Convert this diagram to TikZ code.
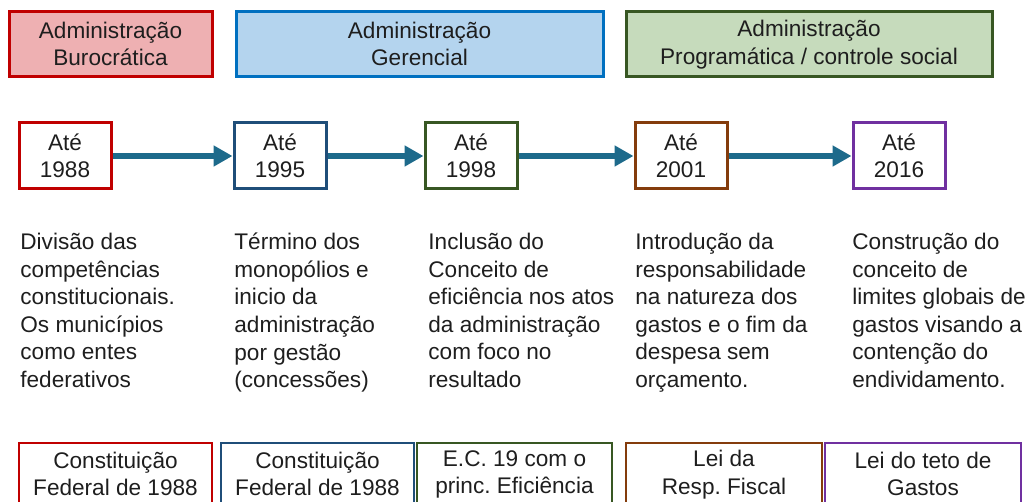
\documentclass[tikz,border=0pt]{standalone}
\usepackage{fontspec}
\setmainfont{Liberation Sans}
\usetikzlibrary{arrows.meta}

\definecolor{txt}{RGB}{30,30,30}
\definecolor{redB}{RGB}{192,0,0}
\definecolor{redF}{RGB}{238,176,178}
\definecolor{blueB}{RGB}{0,112,192}
\definecolor{blueF}{RGB}{180,212,238}
\definecolor{greenB}{RGB}{56,87,35}
\definecolor{greenF}{RGB}{198,219,188}
\definecolor{navy}{RGB}{31,78,121}
\definecolor{brownB}{RGB}{132,60,12}
\definecolor{purpleB}{RGB}{112,48,160}
\definecolor{arrowc}{RGB}{29,106,139}

\begin{document}
\frenchspacing
\begin{tikzpicture}[x=0.5pt,y=-0.5pt,
    every node/.style={font=\fontsize{11.3}{13.8}\selectfont, text=txt},
    boxed/.style={draw, align=center, inner ysep=1pt,
      execute at begin node={\rule[-0.5pt]{0pt}{13.8pt}},
      execute at end node={\rule[-0.5pt]{0pt}{13.8pt}}},
    era/.style={boxed, line width=1.5pt, minimum height=32.5pt},
    yearbox/.style={boxed, line width=1.5pt, minimum width=46pt, minimum height=33pt},
    desc/.style={anchor=north west, align=left, inner sep=0pt, execute at begin node=\strut},
    lawbox/.style={boxed, line width=0.8pt, minimum height=31.5pt},
    link/.style={-{Triangle[length=9.5pt,width=10pt]}, line width=2.6pt, draw=arrowc}]
  \useasboundingbox (0,0) rectangle (1029,502);
  \clip (0,0) rectangle (1029,502);

  \node[era, draw=redB, fill=redF, minimum width=101.5pt]   (burocr) at (110.5,44.5) {Administração\\Burocrática};
  \node[era, draw=blueB, fill=blueF, minimum width=183.5pt] (gerenc) at (419.5,44.5) {Administração\\Gerencial};
  \node[era, draw=greenB, fill=greenF, minimum width=183pt] (progr)  at (809,44.5)   {Administração\\Programática / controle social};

  \node[yearbox, draw=redB]    (y88) at (65,156)  {Até\\1988};
  \node[yearbox, draw=navy]    (y95) at (280,156) {Até\\1995};
  \node[yearbox, draw=greenB]  (y98) at (471,156) {Até\\1998};
  \node[yearbox, draw=brownB]  (y01) at (681,156) {Até\\2001};
  \node[yearbox, draw=purpleB] (y16) at (899,156) {Até\\2016};

  \draw[link] (y88) -- (y95);
  \draw[link] (y95) -- (y98);
  \draw[link] (y98) -- (y01);
  \draw[link] (y01) -- (y16);

  \node[desc] (d88) at (20,232.7)  {Divisão das\\competências\\constitucionais.\\Os municípios\\como entes\\federativos};
  \node[desc] (d95) at (234,232.7) {Término dos\\monopólios e\\inicio da\\administração\\por gestão\\(concessões)};
  \node[desc] (d98) at (428,232.7) {Inclusão do\\Conceito de\\eficiência nos atos\\da administração\\com foco no\\resultado};
  \node[desc] (d01) at (635,232.7) {Introdução da\\responsabilidade\\na natureza dos\\gastos e o fim da\\despesa sem\\orçamento.};
  \node[desc] (d16) at (852,232.7) {Construção do\\conceito de\\limites globais de\\gastos visando a\\contenção do\\endividamento.};

  \node[lawbox, draw=redB, minimum width=96.5pt]    (l88) at (115.5,474.5) {Constituição\\Federal de 1988};
  \node[lawbox, draw=navy, minimum width=96.5pt]    (l95) at (317.5,474.5) {Constituição\\Federal de 1988};
  \node[lawbox, draw=greenB, minimum width=97.5pt]  (l98) at (514.5,474.5) {E.C. 19 com o\\princ. Eficiência};
  \node[lawbox, draw=brownB, minimum width=98pt]    (l01) at (724,474.5)   {Lei da\\Resp. Fiscal};
  \node[lawbox, draw=purpleB, minimum width=98pt]   (l16) at (923,474.5)   {Lei do teto de\\Gastos};
\end{tikzpicture}
\end{document}
